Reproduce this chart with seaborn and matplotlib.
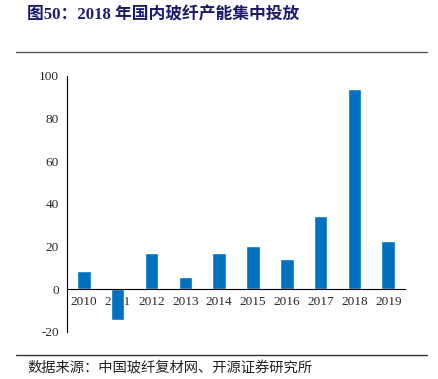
import matplotlib
matplotlib.use("Agg")
import matplotlib.pyplot as plt
import seaborn as sns
import numpy as np
import pandas as pd
from matplotlib.lines import Line2D

years = ["2010", "2011", "2012", "2013", "2014", "2015", "2016", "2017", "2018", "2019"]
capacity = [8.5, -14.5, 16.9, 5.7, 16.9, 20.0, 14.2, 34.3, 93.7, 22.6]
y_ticks = [-20, 0, 20, 40, 60, 80, 100]

title = "图50：2018 年国内玻纤产能集中投放"
source = "数据来源：中国玻纤复材网、开源证券研究所"

sns.set_style("white")
plt.rcParams["font.family"] = ["Liberation Serif", "Noto Sans CJK SC"]
plt.rcParams["axes.unicode_minus"] = False

df = pd.DataFrame({"year": years, "value": capacity})

fig = plt.figure(figsize=(4.38, 3.79), dpi=100)
ax = fig.add_axes([0.153, 0.125, 0.772, 0.6745])

sns.barplot(data=df, x="year", y="value", order=years, color="#0070C0",
            saturation=1, width=0.4, ax=ax)

ax.set_ylim(-20, 100)
ax.set_xlim(-0.5, len(years) - 0.5)
ax.set_yticks(y_ticks)
ax.set_xlabel("")
ax.set_ylabel("")

for s in ["top", "right"]:
    ax.spines[s].set_visible(False)
ax.spines["bottom"].set_position(("data", 0))
for s in ["left", "bottom"]:
    ax.spines[s].set_color("black")
    ax.spines[s].set_linewidth(0.8)

ax.tick_params(axis="y", direction="in", length=4, width=0.8, labelsize=9.5, pad=6)
ax.tick_params(axis="x", which="major", length=0, labelsize=9.5, pad=5)
ax.set_xticks(np.arange(0.5, len(years) - 0.5 + 0.01, 1.0), minor=True)
ax.tick_params(axis="x", which="minor", direction="in", length=4, width=0.8)

fig.text(0.062, 0.96, title, fontsize=12.1, fontweight="bold", color="#1c1c6e",
         va="center", ha="left", family=["Liberation Serif", "Noto Sans CJK SC"])
fig.add_artist(Line2D([0.037, 0.975], [1 - 52 / 379] * 2, color="#555555", lw=1.0))
fig.add_artist(Line2D([0.037, 0.975], [1 - 355 / 379] * 2, color="#333333", lw=1.0))
fig.text(0.062, 1 - 368 / 379, source, fontsize=10.3, color="#222222",
         va="center", ha="left", family=["Noto Sans CJK SC", "DejaVu Sans"])

fig.savefig("out.png", dpi=100)
